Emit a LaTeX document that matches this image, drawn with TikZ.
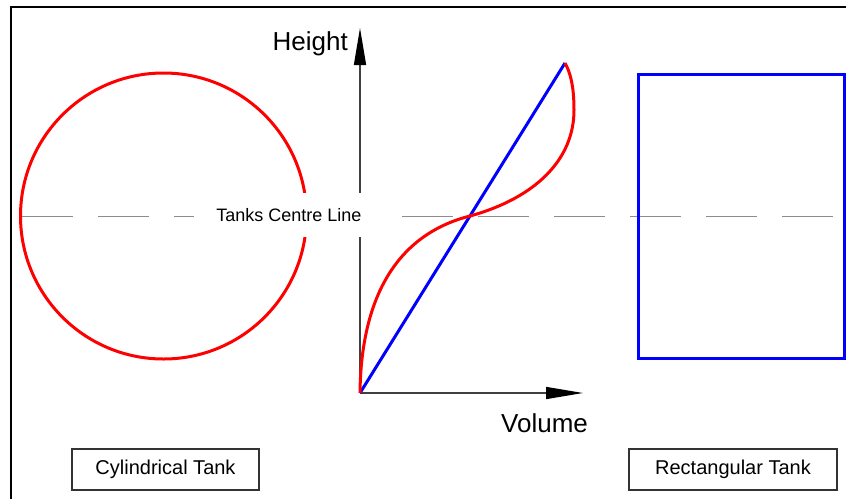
\documentclass[tikz,border=0pt]{standalone}
\usepackage{fontspec}
\setmainfont{Liberation Sans}
\usetikzlibrary{arrows.meta}
\begin{document}
\begin{tikzpicture}[x=1pt, y=-1pt,
    tank/.style={line width=3pt},
    axisline/.style={line width=1.5pt, black!75, -{Triangle[length=37pt, width=12pt, color=black]}},
    tanklabel/.style={draw=black!80, line width=1.5pt, minimum height=41pt, font=\fontsize{20}{24}\selectfont}]
    \useasboundingbox (0, 0) rectangle (846, 499);
    \draw[line width=2pt] (11, 499) -- (11, 7) -- (846, 7);

    % cylindrical tank
    \draw[tank, red] (163.5, 216) circle (143pt);

    % axes
    \coordinate (origin) at (360, 393);
    \coordinate (htip) at (360, 28);
    \coordinate (vtip) at (583, 393);
    \draw[axisline] (origin) -- (htip);
    \draw[axisline] (origin) -- (vtip);
    \node[anchor=base east, inner sep=0pt, font=\fontsize{26}{30}\selectfont] (height) at (348, 50) {Height};
    \node[anchor=base west, inner sep=0pt, font=\fontsize{26}{30}\selectfont] (volume) at (501, 432) {Volume};

    % volume against height
    \coordinate (full) at (565, 63);
    \coordinate (half) at (470, 216);
    \draw[tank, blue] (origin) -- (full);
    \draw[tank, red] (origin) .. controls (361, 300) and (395, 235) .. (half)
        .. controls (535, 198) and (574, 160) .. (574, 110)
        .. controls (574, 85) and (570, 72) .. (full);

    % centre line
    \draw[black!45, line width=1pt, dash pattern=on 51pt off 25pt] (22, 216) -- (846, 216);
    \node[fill=white, minimum width=190pt, minimum height=44pt, font=\fontsize{18}{22}\selectfont] (centre) at (289, 215) {Tanks Centre Line};

    % rectangular tank
    \draw[tank, blue] (638, 74) rectangle (844, 358);

    \node[tanklabel, minimum width=187pt] (cyl) at (165.5, 469.5) {Cylindrical Tank};
    \node[tanklabel, minimum width=208pt] (rect) at (733, 469.5) {Rectangular Tank};
\end{tikzpicture}
\end{document}
